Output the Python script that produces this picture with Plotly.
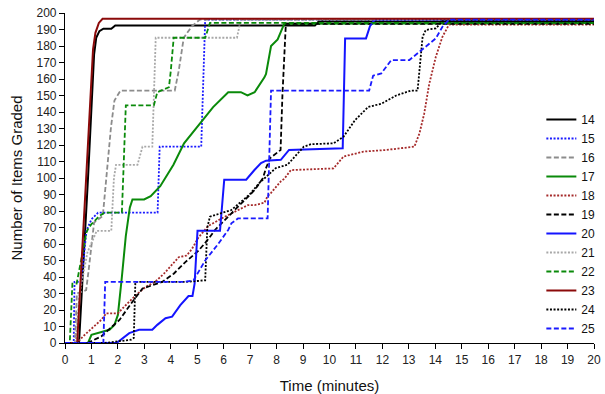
import plotly.graph_objects as go

# ---- data ----
names = ["14", "15", "16", "17", "18", "19", "20", "21", "22", "23", "24", "25"]

t14 = [0, 0.53, 0.87, 1.1, 1.18, 1.3, 1.45, 1.75, 1.9, 9.45, 9.6, 20]
v14 = [0, 0, 100, 175, 185, 189, 190.5, 190.5, 192.5, 192.5, 195, 195]

t15 = [0, 0.33, 0.36, 0.6, 0.7, 0.81, 1.0, 1.25, 3.5, 3.58, 5.15, 5.3, 20]
v15 = [0, 0, 37, 37, 50, 68, 75, 79, 79, 119, 119, 196, 196]

t16 = [0, 0.38, 0.45, 0.8, 0.9, 1.1, 1.43, 1.55, 1.74, 1.87, 2.1, 4.15, 4.3, 4.49, 4.8, 5.1, 20]
v16 = [0, 0, 30, 32, 45, 73, 77, 100, 131, 147, 153, 153, 165, 185, 192, 196, 196]

t17 = [0, 0.6, 0.87, 1.0, 1.68, 1.87, 2.0, 2.15, 2.3, 2.45, 2.55, 2.99, 3.24, 3.6, 4.1, 4.5, 5.1,
       5.6, 6.17, 6.65, 6.9, 7.17, 7.54, 7.6, 7.79, 8.04, 8.29, 20]
v17 = [0, 0, 0, 5, 8, 11, 17, 40, 65, 82, 87, 87, 89, 95, 108, 121, 133,
       143, 152, 152, 150, 152, 161, 163, 180, 184, 193.5, 194]

t18 = [0, 0.44, 0.75, 1.37, 1.56, 2.0, 2.24, 2.68, 3.05, 3.4, 3.74, 4.3, 4.6, 4.8, 5.05, 5.42,
       5.92, 6.42, 6.92, 7.17, 7.54, 7.66, 7.79, 8.16, 8.29, 8.54, 10.15, 10.53, 11.28, 12.15,
       12.77, 13.21, 13.4, 13.58, 13.77, 14.02, 14.27, 14.52, 20]
v18 = [0, 0, 5, 14, 18, 18, 22, 29, 34, 37, 42, 52, 53, 57, 64, 71,
       75.5, 79.6, 83.6, 83.6, 85, 89, 91, 98, 99.5, 104.8, 105.8, 113, 116, 117,
       118, 119, 127, 139, 157, 173.5, 185.6, 193, 193]

t19 = [0, 0.85, 1.37, 2.06, 2.55, 2.93, 3.67, 4.11, 4.55, 5.05, 5.42, 5.67, 6.04, 6.42, 6.79,
       7.17, 7.48, 7.6, 7.75, 8.15, 8.22, 8.35, 20]
v19 = [0, 0, 4, 14, 25, 33, 37, 42, 49, 56, 63, 68.5, 74.5, 80.6, 86.7,
       92.7, 99.8, 106, 112, 117, 150, 193.5, 193.5]

t20 = [0, 1.95, 2.43, 2.8, 3.3, 3.49, 3.8, 4.05, 4.36, 4.67, 4.82, 4.9, 5.01, 5.86, 6.02, 6.85,
       7.17, 7.41, 7.6, 8.16, 8.47, 10.5, 10.59, 11.38, 11.53, 11.71, 20]
v20 = [0, 0, 6, 8, 8, 11, 15, 16, 23, 28.5, 28.5, 36, 68, 68, 99, 99,
       105, 109, 110.5, 111, 117, 118, 184.6, 184.6, 192, 196, 196]

t21 = [0, 0.4, 0.55, 0.85, 1.2, 1.75, 1.85, 1.93, 2.74, 2.93, 3.3, 3.43, 6.5, 6.65, 20]
v21 = [0, 0, 30, 55, 68, 68, 100, 108, 108, 119, 119, 185, 185, 196, 196]

t22 = [0, 0.18, 0.28, 0.44, 0.81, 0.9, 1.0, 1.3, 1.5, 2.15, 2.2, 2.3, 3.36, 3.49, 3.93, 4.0,
       4.11, 5.3, 5.48, 20]
v22 = [0, 0, 36, 36, 67, 70, 72, 77, 79, 79, 100, 144, 144, 152, 155, 165,
       185, 185, 194, 194]

t23 = [0, 0.46, 0.8, 1.06, 1.15, 1.28, 1.42, 20]
v23 = [0, 0, 100, 178, 188, 194, 196.5, 196.5]

t24 = [0, 1.5, 2.5, 2.6, 2.66, 4.55, 5.3, 5.38, 5.48, 6.29, 6.98, 7.35, 7.97, 8.41, 9.03, 9.3,
       10.15, 10.53, 10.96, 11.46, 11.96, 12.52, 13.08, 13.33, 13.52, 13.64, 14.02, 14.27, 20]
v24 = [0, 0, 2, 3, 37, 37, 38, 70, 76.6, 80.6, 90, 97, 106, 108, 119, 120.5,
       121, 125, 135, 143, 145, 150, 153, 153, 185.6, 189.7, 190.7, 195, 195]

t25 = [0, 1.45, 1.52, 4.49, 4.86, 5.3, 5.79, 6.17, 6.29, 6.54, 7.66, 7.72, 7.79, 11.5, 11.65,
       11.96, 12.34, 13.02, 13.4, 14.02, 14.27, 14.52, 20]
v25 = [0, 0, 37, 37, 38, 50, 60, 68.5, 72.5, 75.5, 75.5, 105, 153, 153, 162,
       163.4, 171.5, 171.5, 176.6, 184.6, 191.7, 196, 196]

times = [t14, t15, t16, t17, t18, t19, t20, t21, t22, t23, t24, t25]
values = [v14, v15, v16, v17, v18, v19, v20, v21, v22, v23, v24, v25]

x_ticks = list(range(0, 21))
y_ticks = list(range(0, 201, 10))

# ---- styles ----
DOT = "2px,1.6px"
DASH = "5px,2.5px"
styles = [
    dict(color="#000000", dash="solid", width=2),
    dict(color="#1a1aff", dash=DOT, width=1.8),
    dict(color="#8c8c8c", dash=DASH, width=1.8),
    dict(color="#0a8a0a", dash="solid", width=2),
    dict(color="#a52a2a", dash=DOT, width=1.8),
    dict(color="#000000", dash=DASH, width=1.8),
    dict(color="#1414ff", dash="solid", width=2),
    dict(color="#a8a8a8", dash=DOT, width=1.8),
    dict(color="#0a8a0a", dash=DASH, width=1.8),
    dict(color="#8b0a0a", dash="solid", width=2),
    dict(color="#000000", dash=DOT, width=1.8),
    dict(color="#1a1aff", dash=DASH, width=1.8),
]

fig = go.Figure()
for name, t, v, st in zip(names, times, values, styles):
    fig.add_trace(go.Scatter(x=t, y=v, mode="lines", name=name, line=st))

FONT = "Liberation Sans, Arial"
axis_common = dict(
    showline=True, linecolor="black", linewidth=1.2, ticks="outside", tickcolor="black",
    ticklen=5, tickwidth=1, showgrid=False, zeroline=False, automargin=False,
    tickfont=dict(family=FONT, size=12, color="#222"),
)

fig.update_xaxes(range=[0, 20], tickvals=x_ticks, title=dict(text="Time (minutes)",
                 font=dict(family=FONT, size=15, color="#111"), standoff=14),
                 **axis_common)
fig.update_yaxes(range=[0, 200], tickvals=y_ticks, title=dict(text="Number of Items Graded",
                 font=dict(family=FONT, size=15, color="#111"), standoff=10),
                 **axis_common)

fig.update_layout(
    width=605, height=394,
    margin=dict(l=65, r=5, t=13, b=51),
    paper_bgcolor="white", plot_bgcolor="white",
    legend=dict(x=1.012, xanchor="right", y=0.0, yanchor="bottom",
                font=dict(family=FONT, size=12, color="#111"),
                bgcolor="rgba(0,0,0,0)", tracegroupgap=0, itemwidth=30),
    font=dict(family=FONT),
)

fig.write_html("out.html", config={"displayModeBar": False},
               post_script="document.body.style.margin='0';document.body.style.padding='0';")
